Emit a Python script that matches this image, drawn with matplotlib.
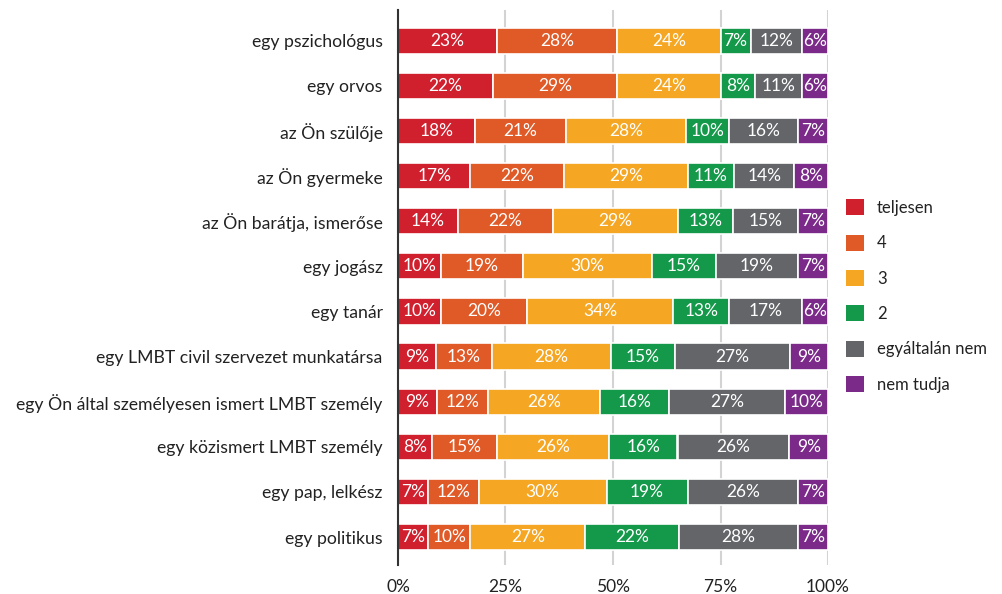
import matplotlib
matplotlib.use("Agg")
import matplotlib.pyplot as plt
from matplotlib.patches import Patch
import numpy as np

plt.rcParams['font.family'] = ['Lato', 'DejaVu Sans']

categories = [
    "egy pszichológus", "egy orvos", "az Ön szülője", "az Ön gyermeke",
    "az Ön barátja, ismerőse", "egy jogász", "egy tanár",
    "egy LMBT civil szervezet munkatársa",
    "egy Ön által személyesen ismert LMBT személy",
    "egy közismert LMBT személy", "egy pap, lelkész", "egy politikus",
]
series_names = ["teljesen", "4", "3", "2", "egyáltalán nem", "nem tudja"]
teljesen = [23, 22, 18, 17, 14, 10, 10, 9, 9, 8, 7, 7]
s4 = [28, 29, 21, 22, 22, 19, 20, 13, 12, 15, 12, 10]
s3 = [24, 24, 28, 29, 29, 30, 34, 28, 26, 26, 30, 27]
s2 = [7, 8, 10, 11, 13, 15, 13, 15, 16, 16, 19, 22]
egyaltalan = [12, 11, 16, 14, 15, 19, 17, 27, 27, 26, 26, 28]
nem_tudja = [6, 6, 7, 8, 7, 7, 6, 9, 10, 9, 7, 7]
xticks = [0, 25, 50, 75, 100]
xticklabels = ["0%", "25%", "50%", "75%", "100%"]

colors = ["#d0202e", "#e05a28", "#f5a623", "#14994a", "#636569", "#7b2a8a"]

data = np.array([teljesen, s4, s3, s2, egyaltalan, nem_tudja], dtype=float)
norm = data / data.sum(axis=0) * 100

fig = plt.figure(figsize=(10.03, 5.94), dpi=100)
ax = fig.add_axes([398/1003, 1-565/594, 430/1003, 555/594])

y = np.arange(len(categories))
left = np.zeros(len(categories))
for i, name in enumerate(series_names):
    ax.barh(y, norm[i], left=left, height=0.58, color=colors[i],
            edgecolor="white", linewidth=1.2, zorder=3)
    for j in range(len(categories)):
        ax.text(left[j] + norm[i][j] / 2, y[j], f"{int(data[i][j])}%",
                ha="center", va="center", color="white", fontsize=12.5, zorder=4)
    left += norm[i]

ax.set_ylim(11.62, -0.68)
ax.set_xlim(0, 100)
ax.set_yticks(y)
ax.set_yticklabels(categories, fontsize=12.7, color="#222222")
ax.set_xticks(xticks)
ax.set_xticklabels(xticklabels, fontsize=12.5, color="#222222")
ax.tick_params(axis="y", length=0, pad=11)
ax.tick_params(axis="x", length=0, pad=10)
ax.xaxis.grid(True, color="#d3d3d3", linewidth=1.5, zorder=0)
ax.set_axisbelow(True)
for s in ["top", "right", "bottom"]:
    ax.spines[s].set_visible(False)
ax.spines["left"].set_color("#333333")
ax.spines["left"].set_linewidth(1.5)
ax.spines["left"].set_zorder(5)

handles = [Patch(facecolor=c, edgecolor="none") for c in colors]
fig.legend(handles, series_names, loc="center left",
           bbox_to_anchor=(831/1003, 1-296/594), frameon=False,
           fontsize=12, handlelength=1.1, handleheight=1.1,
           labelspacing=1.12, handletextpad=0.75, labelcolor="#222222")

fig.savefig("out.png", dpi=100)
